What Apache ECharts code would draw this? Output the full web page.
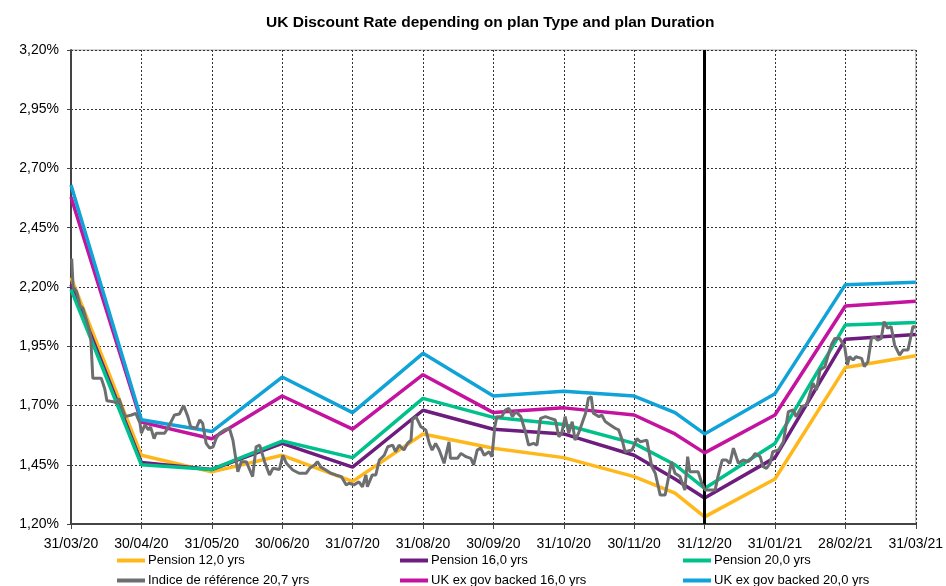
<!DOCTYPE html>
<html>
<head>
<meta charset="utf-8">
<script src="https://cdn.jsdelivr.net/npm/echarts@6/dist/echarts.min.js"></script>
<style>
  html, body { margin: 0; padding: 0; background: #fff; }
  #chart { width: 946px; height: 586px; }
</style>
</head>
<body>
<div id="chart"></div>
<script>
// month-end labels, x position = months since 31/03/20
const monthLabels = ['31/03/20', '30/04/20', '31/05/20', '30/06/20', '31/07/20', '31/08/20', '30/09/20',
  '31/10/20', '30/11/20', '31/12/20', '31/01/21', '28/02/21', '31/03/21'];

// curve points (month-ends plus one mid-December point)
const curveX = [0, 1, 2, 3, 4, 5, 6, 7, 8, 8.58, 9, 10, 11, 12];
const pension12 = [2.24, 1.49, 1.42, 1.49, 1.38, 1.58, 1.52, 1.48, 1.40, 1.33, 1.23, 1.39, 1.86, 1.91];
const pension16 = [2.21, 1.46, 1.43, 1.54, 1.44, 1.68, 1.60, 1.58, 1.49, 1.39, 1.31, 1.48, 1.98, 2.00];
const pension20 = [2.19, 1.45, 1.43, 1.55, 1.48, 1.73, 1.65, 1.62, 1.54, 1.45, 1.35, 1.54, 2.04, 2.05];
const ukGov16   = [2.58, 1.63, 1.56, 1.74, 1.60, 1.83, 1.67, 1.69, 1.66, 1.58, 1.50, 1.66, 2.12, 2.14];
const ukGov20   = [2.63, 1.64, 1.59, 1.82, 1.67, 1.92, 1.74, 1.76, 1.74, 1.67, 1.58, 1.75, 2.21, 2.22];

// reference index (daily-ish readings)
const indexX = [0.01, 0.03, 0.08, 0.13, 0.17, 0.25, 0.28, 0.31, 0.43, 0.48, 0.51, 0.60, 0.65, 0.68, 0.72, 0.77, 0.86, 0.92, 0.98,
  1.00, 1.05, 1.10, 1.13, 1.18, 1.21, 1.33, 1.40, 1.47, 1.54, 1.60, 1.66, 1.70, 1.78, 1.83, 1.87, 1.92, 1.97,
  2.02, 2.06, 2.11, 2.18, 2.25, 2.30, 2.37, 2.42, 2.49, 2.54, 2.58, 2.63, 2.68, 2.75, 2.82, 2.87, 2.96,
  3.01, 3.06, 3.15, 3.24, 3.34, 3.39, 3.46, 3.50, 3.55, 3.62, 3.69, 3.76, 3.84, 3.91, 3.95,
  4.02, 4.09, 4.14, 4.19, 4.21, 4.28, 4.33, 4.38, 4.45, 4.50, 4.57, 4.61, 4.66, 4.73, 4.78, 4.83, 4.85, 4.90, 4.97,
  5.04, 5.09, 5.13, 5.18, 5.23, 5.30, 5.37, 5.39, 5.49, 5.54, 5.61, 5.68, 5.72, 5.77, 5.82, 5.87, 5.94, 5.98,
  6.02, 6.05, 6.12, 6.17, 6.22, 6.27, 6.32, 6.39, 6.46, 6.50, 6.57, 6.62, 6.67, 6.74, 6.81, 6.88, 6.93, 6.97,
  7.02, 7.07, 7.12, 7.16, 7.21, 7.26, 7.31, 7.35, 7.39, 7.42, 7.50, 7.54, 7.59, 7.66, 7.73, 7.78, 7.83, 7.87, 7.97,
  8.04, 8.09, 8.18, 8.25, 8.30, 8.37, 8.44, 8.49, 8.53, 8.58, 8.65, 8.72, 8.76, 8.79, 8.91, 8.96,
  9.01, 9.15, 9.19, 9.25, 9.31, 9.36, 9.41, 9.48, 9.55, 9.62, 9.67, 9.72, 9.79, 9.83, 9.88, 9.93, 9.97,
  10.05, 10.12, 10.19, 10.26, 10.30, 10.38, 10.45, 10.49, 10.54, 10.59, 10.64, 10.71, 10.75, 10.80, 10.85, 10.92, 10.99,
  11.03, 11.06, 11.11, 11.15, 11.23, 11.27, 11.32, 11.37, 11.41, 11.46, 11.51, 11.55, 11.60, 11.65, 11.70, 11.77, 11.82, 11.89, 11.96, 12.00];
const indexRate = [2.32, 2.20, 2.18, 2.12, 2.11, 2.03, 1.99, 1.815, 1.815, 1.77, 1.72, 1.716, 1.71, 1.73, 1.695, 1.653, 1.66, 1.667, 1.625,
  1.583, 1.618, 1.597, 1.61, 1.56, 1.583, 1.583, 1.618, 1.66, 1.664, 1.70, 1.653, 1.61, 1.604, 1.639, 1.625, 1.54, 1.52,
  1.526, 1.56, 1.583, 1.597, 1.604, 1.554, 1.42, 1.463, 1.463, 1.428, 1.40, 1.526, 1.533, 1.463, 1.407, 1.435, 1.43,
  1.49, 1.456, 1.428, 1.414, 1.414, 1.435, 1.449, 1.463, 1.44, 1.428, 1.414, 1.407, 1.40, 1.365, 1.372,
  1.365, 1.378, 1.357, 1.407, 1.357, 1.407, 1.407, 1.47, 1.49, 1.526, 1.533, 1.505, 1.533, 1.512, 1.54, 1.554, 1.64, 1.653, 1.61,
  1.597, 1.54, 1.512, 1.54, 1.512, 1.456, 1.547, 1.477, 1.477, 1.498, 1.484, 1.477, 1.449, 1.512, 1.52, 1.49, 1.505, 1.484,
  1.61, 1.653, 1.653, 1.681, 1.688, 1.653, 1.674, 1.653, 1.583, 1.533, 1.54, 1.533, 1.646, 1.653, 1.646, 1.639, 1.568, 1.583,
  1.653, 1.583, 1.632, 1.554, 1.583, 1.625, 1.667, 1.73, 1.737, 1.667, 1.653, 1.66, 1.632, 1.618, 1.604, 1.597, 1.554, 1.505, 1.512,
  1.56, 1.547, 1.554, 1.442, 1.414, 1.322, 1.322, 1.40, 1.463, 1.414, 1.40, 1.343, 1.484, 1.42, 1.42, 1.372,
  1.343, 1.343, 1.40, 1.47, 1.47, 1.456, 1.52, 1.456, 1.47, 1.463, 1.477, 1.498, 1.484, 1.442, 1.435, 1.456, 1.505,
  1.512, 1.547, 1.674, 1.681, 1.653, 1.695, 1.702, 1.744, 1.794, 1.765, 1.85, 1.864, 1.906, 1.955, 1.983, 1.983, 1.948,
  1.871, 1.906, 1.892, 1.906, 1.899, 1.864, 1.885, 1.983, 1.99, 1.976, 1.983, 2.054, 2.026, 2.033, 1.955, 1.913, 1.934, 1.934, 2.033, 2.03];

const pairs = (xs, ys) => xs.map((x, i) => [x, ys[i]]);
const pct = v => v.toFixed(2).replace('.', ',') + '%';

const seriesDefs = [
  { name: 'Pension 12,0 yrs', color: '#FFB81C', data: pairs(curveX, pension12), width: 3.5 },
  { name: 'Pension 16,0 yrs', color: '#6C1D7E', data: pairs(curveX, pension16), width: 3.5 },
  { name: 'Pension 20,0 yrs', color: '#00C08B', data: pairs(curveX, pension20), width: 3.5 },
  { name: 'UK ex gov backed 16,0 yrs', color: '#C4139E', data: pairs(curveX, ukGov16), width: 3.5 },
  { name: 'UK ex gov backed 20,0 yrs', color: '#10A3D8', data: pairs(curveX, ukGov20), width: 3.5 },
  { name: 'Indice de référence 20,7 yrs', color: '#6D6E70', data: pairs(indexX, indexRate), width: 3 }
];

// legend layout: [name, left, top]
const legendSlots = [
  ['Pension 12,0 yrs', 117, 554], ['Pension 16,0 yrs', 400, 554], ['Pension 20,0 yrs', 683, 554],
  ['Indice de référence 20,7 yrs', 117, 574], ['UK ex gov backed 16,0 yrs', 400, 574], ['UK ex gov backed 20,0 yrs', 683, 574]
];

const chart = echarts.init(document.getElementById('chart'), null, { renderer: 'canvas' });

const option = {
  animation: false,
  textStyle: { fontFamily: 'Liberation Sans, Arial, sans-serif' },
  title: {
    text: 'UK Discount Rate depending on plan Type and plan Duration',
    left: 261,
    top: 10,
    textStyle: { fontSize: 15.5, fontWeight: 'bold', color: '#000' }
  },
  legend: legendSlots.map(s => ({
    data: [s[0]],
    left: s[1],
    top: s[2],
    padding: 0,
    icon: 'rect',
    itemWidth: 28,
    itemHeight: 4,
    textStyle: { fontSize: 13, color: '#000', padding: [0, 0, 0, -2] }
  })),
  grid: {
    left: 71, right: 28, top: 50, bottom: 62,
    show: true, borderColor: '#aaa', borderWidth: 1
  },
  xAxis: {
    type: 'value',
    min: 0, max: 12, interval: 1,
    axisLine: { show: true, lineStyle: { color: '#444', width: 2 } },
    axisTick: { show: true, length: 5, lineStyle: { color: '#444' } },
    axisLabel: { fontSize: 14, color: '#000', margin: 13, formatter: v => monthLabels[Math.round(v)] },
    splitLine: { show: true, lineStyle: { color: '#333', type: [2, 2], width: 1 } }
  },
  yAxis: {
    type: 'value',
    min: 1.2, max: 3.2, interval: 0.25,
    axisLine: { show: true, lineStyle: { color: '#444', width: 2 } },
    axisTick: { show: true, length: 4, lineStyle: { color: '#444' } },
    axisLabel: { fontSize: 14, color: '#000', margin: 12, formatter: pct },
    splitLine: { show: true, lineStyle: { color: '#333', type: [2, 2], width: 1 } }
  },
  series: seriesDefs.map((s, i) => ({
    name: s.name,
    type: 'line',
    data: s.data,
    showSymbol: false,
    symbol: 'none',
    z: 2 + i,
    itemStyle: { color: s.color },
    lineStyle: { color: s.color, width: s.width },
    markLine: i === 0 ? {
      silent: true,
      symbol: 'none',
      label: { show: false },
      lineStyle: { color: '#000', width: 3, type: 'solid' },
      data: [{ xAxis: 9 }]
    } : undefined
  }))
};

chart.setOption(option);
</script>
</body>
</html>
